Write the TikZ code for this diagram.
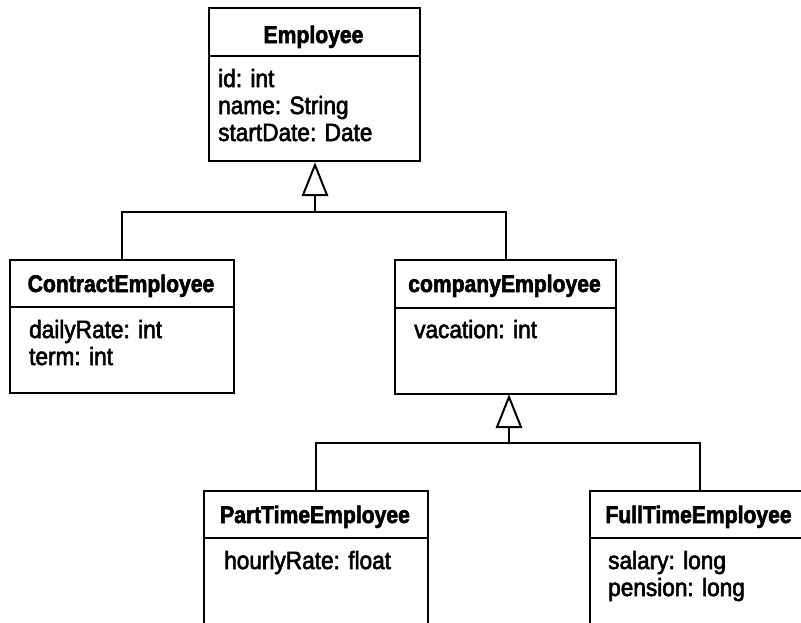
\documentclass[tikz,border=0pt]{standalone}
\usepackage{fontspec}
\newfontfamily\regf{Liberation Sans}[FakeStretch=0.905,FakeBold=2.4]
\newfontfamily\boldf{Liberation Sans}[FakeStretch=0.88,FakeBold=2.4]
\usetikzlibrary{calc}
\begin{document}
\begin{tikzpicture}[x=1pt,y=-1pt,
  box/.style={draw,line width=2pt,anchor=north west,inner sep=0pt,rectangle},
  ln/.style={line width=2pt},
  ttl/.style={anchor=base,inner sep=0pt,font=\boldf\bfseries\fontsize{24}{27}\selectfont},
  attr/.style={anchor=base west,inner sep=0pt,font=\regf\fontsize{25}{27}\selectfont}]
\useasboundingbox (0,0) rectangle (801,622);
\clip (0,0) rectangle (801,622);
% boxes
\node[box,minimum width=211pt,minimum height=153pt] (emp) at (208,7) {};
\node[box,minimum width=224pt,minimum height=133pt] (con) at (9,259) {};
\node[box,minimum width=221pt,minimum height=134pt] (cpe) at (394,259) {};
\node[box,minimum width=224pt,minimum height=160pt] (pte) at (203,490) {};
\node[box,minimum width=219pt,minimum height=160pt] (fte) at (589,490) {};
% dividers
\draw[ln] (emp.west |- 0,56) -- (emp.east |- 0,56);
\draw[ln] (con.west |- 0,307) -- (con.east |- 0,307);
\draw[ln] (cpe.west |- 0,308) -- (cpe.east |- 0,308);
\draw[ln] (pte.west |- 0,538) -- (pte.east |- 0,538);
\draw[ln] (fte.west |- 0,538) -- (fte.east |- 0,538);
% titles
\node[ttl] (empT) at (313.5,43) {Employee};
\node[ttl] (conT) at (121,292) {ContractEmployee};
\node[ttl] (cpeT) at (504.5,292) {companyEmployee};
\node[ttl] (pteT) at (315,523) {PartTimeEmployee};
\node[ttl] (fteT) at (698.5,523) {FullTimeEmployee};
% attributes
\node[attr] (a1) at (218,87) {id: int};
\node[attr] (a2) at (218,114) {name: String};
\node[attr] (a3) at (218,141) {startDate: Date};
\node[attr] (c1) at (29,338) {dailyRate: int};
\node[attr] (c2) at (29,365) {term: int};
\node[attr] (v1) at (414,338) {vacation: int};
\node[attr] (p1) at (224,569) {hourlyRate: float};
\node[attr] (f1) at (608,569) {salary: long};
\node[attr] (f2) at (608,596) {pension: long};
% generalization 1
\coordinate (t1) at ($(emp.south)+(0.5,3)$);
\coordinate (b1) at ($(t1)+(0,30)$);
\coordinate (j1) at ($(t1)+(0,47)$);
\draw[ln,line join=miter] (t1) -- ($(b1)+(-12,0)$) -- ($(b1)+(12,0)$) -- cycle;
\draw[ln] (b1) -- (j1);
\draw[ln] (con.north) |- (j1) -| (cpe.north);
% generalization 2
\coordinate (t2) at ($(cpe.south)+(3.5,2)$);
\coordinate (b2) at ($(t2)+(0,30)$);
\coordinate (j2) at ($(t2)+(0,46)$);
\draw[ln,line join=miter] (t2) -- ($(b2)+(-12,0)$) -- ($(b2)+(12,0)$) -- cycle;
\draw[ln] (b2) -- (j2);
\draw[ln] (pte.north) |- (j2) -| (fte.north);
\end{tikzpicture}
\end{document}
